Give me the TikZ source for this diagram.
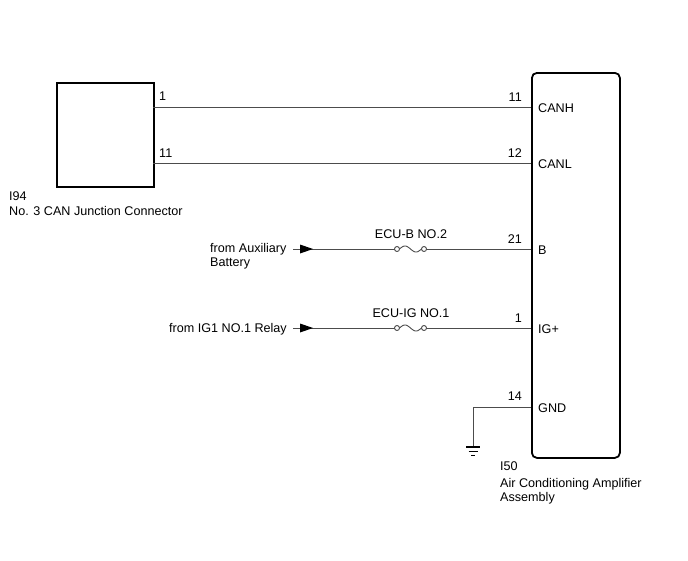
\documentclass[tikz,border=0pt]{standalone}
\usepackage{fontspec}
\setmainfont{Liberation Sans}
\begin{document}
\begin{tikzpicture}[x=1pt,y=-1pt,
  txt/.style={inner sep=0pt,font=\fontsize{12.6}{14}\selectfont},
  wire/.style={draw=black!70,line width=0.9pt},
  box/.style={draw=black,line width=1.8pt,inner sep=0pt},
  fusec/.style={draw=black!70,line width=0.9pt,fill=white}]
\useasboundingbox (0,0) rectangle (688,560);
% left connector
\node[box,minimum width=97pt,minimum height=104pt,anchor=north west] (jc) at (56,82) {};
% right ECU
\node[box,rounded corners=5pt,minimum width=88pt,minimum height=385pt,anchor=north west] (ecu) at (531,72) {};
\coordinate (jc1) at (153,107);
\coordinate (jc11) at (153,163);
\coordinate (e11) at (531,107);
\coordinate (e12) at (531,163);
\coordinate (e21) at (531,249);
\coordinate (e1) at (531,328);
\coordinate (e14) at (531,407);
\draw[wire] (jc1) -- (e11);
\draw[wire] (jc11) -- (e12);
% pin labels left
\node[txt,anchor=base west] (p1) at (159,100) {1};
\node[txt,anchor=base west] (p11) at (159,157) {11};
% pin labels right
\node[txt,anchor=base east] (q11) at (522,101) {11};
\node[txt,anchor=base east] (q12) at (522,157) {12};
\node[txt,anchor=base east] (q21) at (522,243) {21};
\node[txt,anchor=base east] (q1) at (522,322) {1};
\node[txt,anchor=base east] (q14) at (522,400) {14};
\node[txt,anchor=base west] (canh) at (538,112) {CANH};
\node[txt,anchor=base west] (canl) at (538,168) {CANL};
\node[txt,anchor=base west] (bb) at (538,254) {B};
\node[txt,anchor=base west] (ig) at (538,333) {IG+};
\node[txt,anchor=base west] (gnd) at (538,412) {GND};
% connector names
\node[txt,anchor=base west] (i94) at (9,200) {I94};
\node[txt,anchor=base west] (i94n) at (9,215) {No. 3 CAN Junction Connector};
\node[txt,anchor=base west] (i50) at (500,470) {I50};
\node[txt,anchor=base west] (i50n) at (500,487) {Air Conditioning Amplifier};
\node[txt,anchor=base west] (i50m) at (500,501) {Assembly};
% B line
\node[txt,anchor=base west] (fromaux) at (210,252) {from Auxiliary};
\node[txt,anchor=base west] (batt) at (210,266) {Battery};
\coordinate (a1) at (293,249);
\coordinate (f1l) at (397,249);
\coordinate (f1r) at (424,249);
\draw[wire] (a1) -- (f1l);
\draw[wire] (f1r) -- (e21);
\fill[black] (300,244.5) -- (313,249) -- (300,253.5) -- cycle;
\draw[wire] plot[domain=0:1,samples=30,smooth] ({399.5+22*\x},{249-3*sin(360*\x)});
\draw[fusec] (f1l) circle (2.5);
\draw[fusec] (f1r) circle (2.5);
\node[txt,anchor=base] (fb) at (411,238) {ECU-B NO.2};
% IG line
\node[txt,anchor=base east] (fromig) at (287,332) {from IG1 NO.1 Relay};
\coordinate (a2) at (293,328);
\coordinate (f2l) at (397,328);
\coordinate (f2r) at (424,328);
\draw[wire] (a2) -- (f2l);
\draw[wire] (f2r) -- (e1);
\fill[black] (300,323.5) -- (313,328) -- (300,332.5) -- cycle;
\draw[wire] plot[domain=0:1,samples=30,smooth] ({399.5+22*\x},{328-3*sin(360*\x)});
\draw[fusec] (f2l) circle (2.5);
\draw[fusec] (f2r) circle (2.5);
\node[txt,anchor=base] (fi) at (411,317) {ECU-IG NO.1};
% ground
\coordinate (g0) at (473,447);
\draw[wire] (e14) -- (473,407) -- (g0);
\draw[black,line width=1.2pt] (466,447) -- (480,447);
\draw[black,line width=1pt] (468.5,451) -- (477.5,451);
\draw[black,line width=0.9pt] (471,455) -- (475,455);
\end{tikzpicture}
\end{document}
